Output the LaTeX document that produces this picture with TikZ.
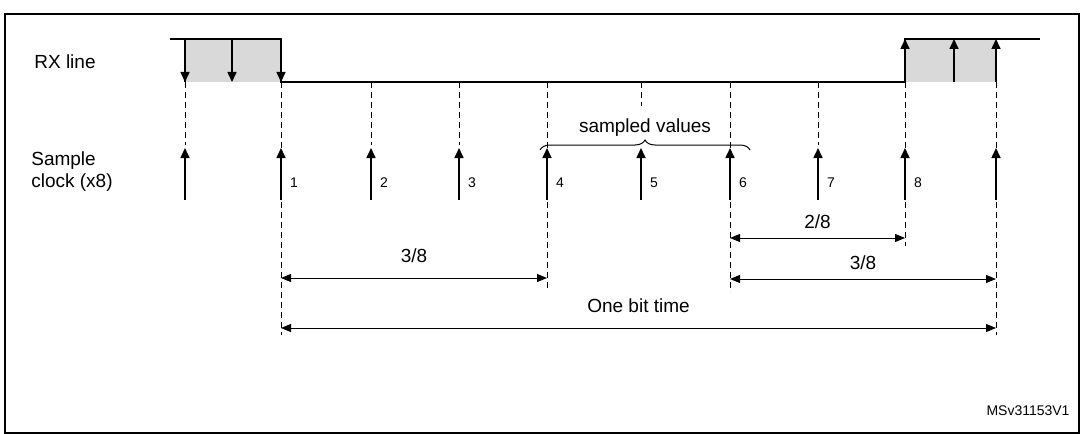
\documentclass[tikz,border=0pt]{standalone}
\usepackage{fontspec}
\setmainfont{Liberation Sans}
\usetikzlibrary{positioning,decorations.pathreplacing,arrows.meta}
\begin{document}
\begin{tikzpicture}[x=0.5pt, y=-0.5pt,
        tick/.style={-{Triangle[length=5pt,width=4.5pt]}, line width=0.8pt},
        dim/.style={{Triangle[length=5pt,width=4pt]}-{Triangle[length=5pt,width=4pt]}, line width=0.5pt},
        guide/.style={dashed, line width=0.4pt, dash pattern=on 3pt off 2pt},
        lbl/.style={font=\fontsize{9.5}{11}\selectfont},
        num/.style={font=\fontsize{7}{8}\selectfont, anchor=west}]
      \useasboundingbox (0,0) rectangle (1085,433);
      \draw[line width=0.6pt] (5,14) rectangle (1079,433);
      % RX line
      \fill[gray!30] (185,39) rectangle (281,82);
      \fill[gray!30] (905,39) rectangle (996,82);
      \draw[line width=0.6pt] (170,39) -- (281,39) -- (281,82) -- (905,82) -- (905,39) -- (1040,39);
      \draw[line width=0.6pt] (185,39) -- (185,82);
      \foreach \x in {185,232,281} \draw[tick] (\x,39) -- (\x,82);
      \foreach \x in {905,954,996} \draw[tick] (\x,82) -- (\x,39);
      \node[lbl] (rx) at (65,62) {RX line};
      \node[lbl, align=left] (clk) at (72,172) {Sample\\clock (x8)};
      % sample clock
      \foreach \x/\b in {185/145, 281/335, 371/145, 459/145, 547/290,
                         730/292, 818/145, 905/246, 996/335} {
        \coordinate (t\x) at (\x,82);
        \coordinate (b\x) at (\x,\b);
        \draw[guide] (t\x) -- (b\x);
      }
      \foreach \x/\n in {185/, 281/1, 371/2, 459/3, 547/4, 641/5, 730/6, 818/7, 905/8, 996/} {
        \coordinate (s\x) at (\x,200);
        \coordinate (e\x) at (\x,148);
        \draw[tick] (s\x) -- (e\x);
        \node[num] (n\x) at (\x+2,183) {\n};
      }
      \coordinate (t641) at (641,82);
      \coordinate (b641) at (641,106);
      \draw[guide] (t641) -- (b641);
      % sampled values
      \coordinate (bl) at (540,150);
      \coordinate (br) at (750,150);
      \draw[decorate, decoration={brace, amplitude=5pt}, line width=0.5pt] (bl) -- (br)
        node[lbl, midway, above=3pt] (sv) {sampled values};
      % timing
      \coordinate (d1a) at (281,278); \coordinate (d1b) at (547,278);
      \draw[dim] (d1a) -- (d1b) node[lbl, midway, above=4pt] (q1) {3/8};
      \coordinate (d2a) at (730,238); \coordinate (d2b) at (905,238);
      \draw[dim] (d2a) -- (d2b) node[lbl, midway, above=1pt] (q2) {2/8};
      \coordinate (d3a) at (730,279); \coordinate (d3b) at (996,279);
      \draw[dim] (d3a) -- (d3b) node[lbl, midway, above=1pt] (q3) {3/8};
      \coordinate (d4a) at (281,328); \coordinate (d4b) at (996,328);
      \draw[dim] (d4a) -- (d4b) node[lbl, midway, above=4pt] (obt) {One bit time};
      \node[font=\fontsize{7}{8}\selectfont] (ref) at (1028,411) {MSv31153V1};
\end{tikzpicture}
\end{document}
